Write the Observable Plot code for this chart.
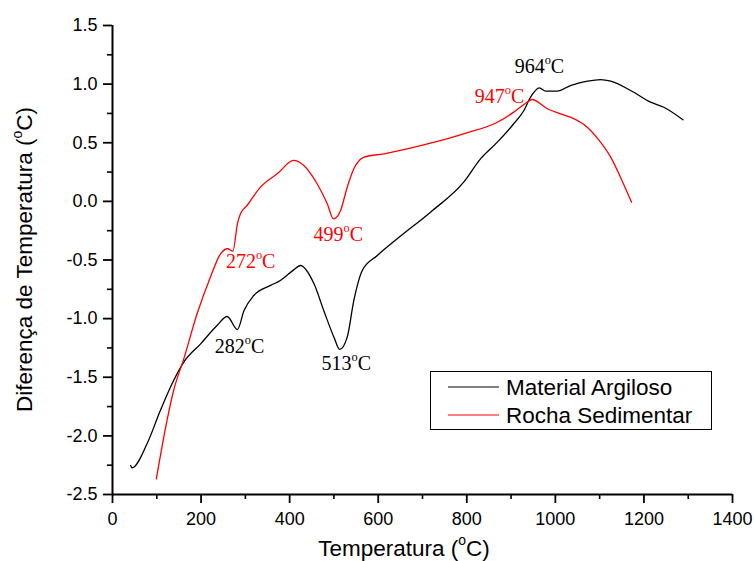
<!DOCTYPE html>
<html>
<head>
<meta charset="utf-8">
<script src="https://cdn.jsdelivr.net/npm/d3@7"></script>
<script src="https://cdn.jsdelivr.net/npm/@observablehq/plot@0.6"></script>
<style>
  html, body { margin: 0; padding: 0; background: #fff; }
  #chart { width: 754px; height: 561px; }
</style>
</head>
<body>
<div id="chart"></div>
<script>
// DTA curves: temperature (°C) vs. temperature difference (°C)
const argilosoT = [41, 44, 78, 108, 138, 161, 199, 236, 259, 282, 297, 319, 357, 379, 409, 424, 455, 477, 500, 513, 530, 545, 564, 598, 643, 718, 793, 831, 869, 906, 929, 944, 964, 978, 1004, 1034, 1072, 1102, 1125, 1170, 1215, 1245, 1288];
const argilosoD = [-2.253, -2.272, -2.067, -1.784, -1.528, -1.371, -1.215, -1.059, -0.982, -1.093, -0.931, -0.803, -0.717, -0.675, -0.584, -0.547, -0.703, -0.931, -1.158, -1.263, -1.158, -0.845, -0.590, -0.462, -0.319, -0.092, 0.164, 0.363, 0.505, 0.662, 0.775, 0.889, 0.968, 0.940, 0.940, 0.988, 1.025, 1.039, 1.025, 0.946, 0.846, 0.803, 0.696];

const rochaT = [99, 123, 138, 161, 191, 221, 244, 260, 272, 282, 289, 304, 334, 372, 409, 432, 462, 485, 499, 515, 530, 545, 568, 613, 650, 718, 793, 869, 906, 936, 947, 982, 1012, 1034, 1072, 1102, 1125, 1147, 1172];
const rochaD = [-2.366, -1.87, -1.613, -1.343, -0.959, -0.647, -0.447, -0.404, -0.425, -0.191, -0.106, -0.035, 0.121, 0.235, 0.349, 0.306, 0.150, -0.021, -0.149, -0.078, 0.121, 0.278, 0.377, 0.406, 0.434, 0.496, 0.576, 0.675, 0.761, 0.846, 0.869, 0.790, 0.747, 0.718, 0.633, 0.505, 0.377, 0.206, -0.007];

// Peak annotations
const peakText = ["964°C", "282°C", "513°C", "947°C", "272°C", "499°C"];
const peakLabelT = [964, 287, 528, 874, 312, 510];
const peakLabelD = [1.091, -1.297, -1.442, 0.843, -0.572, -0.334];
const peakSeries = ["Material Argiloso", "Material Argiloso", "Material Argiloso", "Rocha Sedimentar", "Rocha Sedimentar", "Rocha Sedimentar"];

// Axis ticks
const xMajor = [0, 200, 400, 600, 800, 1000, 1200, 1400];
const xMinor = [100, 300, 500, 700, 900, 1100, 1300];
const yMajor = [-2.5, -2.0, -1.5, -1.0, -0.5, 0.0, 0.5, 1.0, 1.5];
const yMinor = [-2.25, -1.75, -1.25, -0.75, -0.25, 0.25, 0.75, 1.25];

const seriesNames = ["Material Argiloso", "Rocha Sedimentar"];
const seriesColors = ["#000000", "#ff0000"];

const argiloso = argilosoT.map((t, i) => ({t, d: argilosoD[i]}));
const rocha = rochaT.map((t, i) => ({t, d: rochaD[i]}));
const peaks = peakText.map((s, i) => ({s, t: peakLabelT[i], d: peakLabelD[i], series: peakSeries[i]}));
const colorOf = name => seriesColors[seriesNames.indexOf(name)];

const chart = Plot.plot({
  width: 754,
  height: 561,
  marginLeft: 112,
  marginRight: 22,
  marginTop: 25,
  marginBottom: 67,
  x: {domain: [0, 1400]},
  y: {domain: [-2.5, 1.5]},
  style: {fontFamily: "'Liberation Sans', Arial, sans-serif", fontSize: "18px", color: "#000", background: "#fff"},
  marks: [
    Plot.axisX(xMinor, {tickSize: 5, tickFormat: () => "", strokeWidth: 1.6, label: null}),
    Plot.axisX(xMajor, {tickSize: 9, tickPadding: 9, tickFormat: d => String(d), strokeWidth: 1.8, label: null, fontSize: 18}),
    Plot.axisY(yMinor, {tickSize: 5, tickFormat: () => "", strokeWidth: 1.6, label: null}),
    Plot.axisY(yMajor, {tickSize: 9, tickPadding: 6, tickFormat: d => d.toFixed(1), strokeWidth: 1.8, label: null, fontSize: 18}),
    Plot.ruleX([0], {strokeWidth: 2}),
    Plot.ruleY([-2.5], {strokeWidth: 2}),
    Plot.line(argiloso, {x: "t", y: "d", curve: "monotone-x", stroke: colorOf("Material Argiloso"), strokeWidth: 1.3}),
    Plot.line(rocha, {x: "t", y: "d", curve: "monotone-x", stroke: colorOf("Rocha Sedimentar"), strokeWidth: 1.3}),
    Plot.text(peaks, {x: "t", y: "d", text: "s", fill: d => colorOf(d.series), textAnchor: "middle", lineAnchor: "bottom",
      fontFamily: "'Liberation Serif', 'Times New Roman', serif", fontSize: 20})
  ]
});

document.getElementById("chart").appendChild(chart);
const svg = d3.select(chart);

// Axis titles
svg.append("text")
  .attr("transform", "translate(404,555.5)")
  .attr("text-anchor", "middle")
  .attr("font-size", 22.5)
  .text("Temperatura (°C)");
svg.append("text")
  .attr("transform", "translate(32,259.5) rotate(-90)")
  .attr("text-anchor", "middle")
  .attr("font-size", 22.5)
  .text("Diferença de Temperatura (°C)");

// Legend
const legend = svg.append("g").attr("text-anchor", "start");
legend.append("rect")
  .attr("x", 430.5).attr("y", 371.5).attr("width", 281).attr("height", 58)
  .attr("fill", "#fff").attr("stroke", "#000").attr("stroke-width", 1);
seriesNames.forEach((name, i) => {
  const y = 387 + i * 28;
  legend.append("line")
    .attr("x1", 448).attr("x2", 499).attr("y1", y).attr("y2", y)
    .attr("stroke", seriesColors[i]).attr("stroke-width", 1);
  legend.append("text")
    .attr("x", 506).attr("y", y + 7.5)
    .attr("text-anchor", "start")
    .attr("font-size", 22.5)
    .text(name);
});

// Render the degree sign as a raised small "o"
svg.selectAll("text").each(function () {
  const s = this.textContent;
  const k = s.indexOf("°");
  if (k < 0 || this.querySelector("tspan")) return;
  const fs = parseFloat(getComputedStyle(this).fontSize);
  const el = d3.select(this);
  el.text("");
  el.append("tspan").text(s.slice(0, k));
  el.append("tspan").attr("font-size", (0.62 * fs) + "px").attr("dy", (-0.45 * fs) + "px").text("o");
  el.append("tspan").attr("dy", (0.45 * fs) + "px").text(s.slice(k + 1));
});
</script>
</body>
</html>
